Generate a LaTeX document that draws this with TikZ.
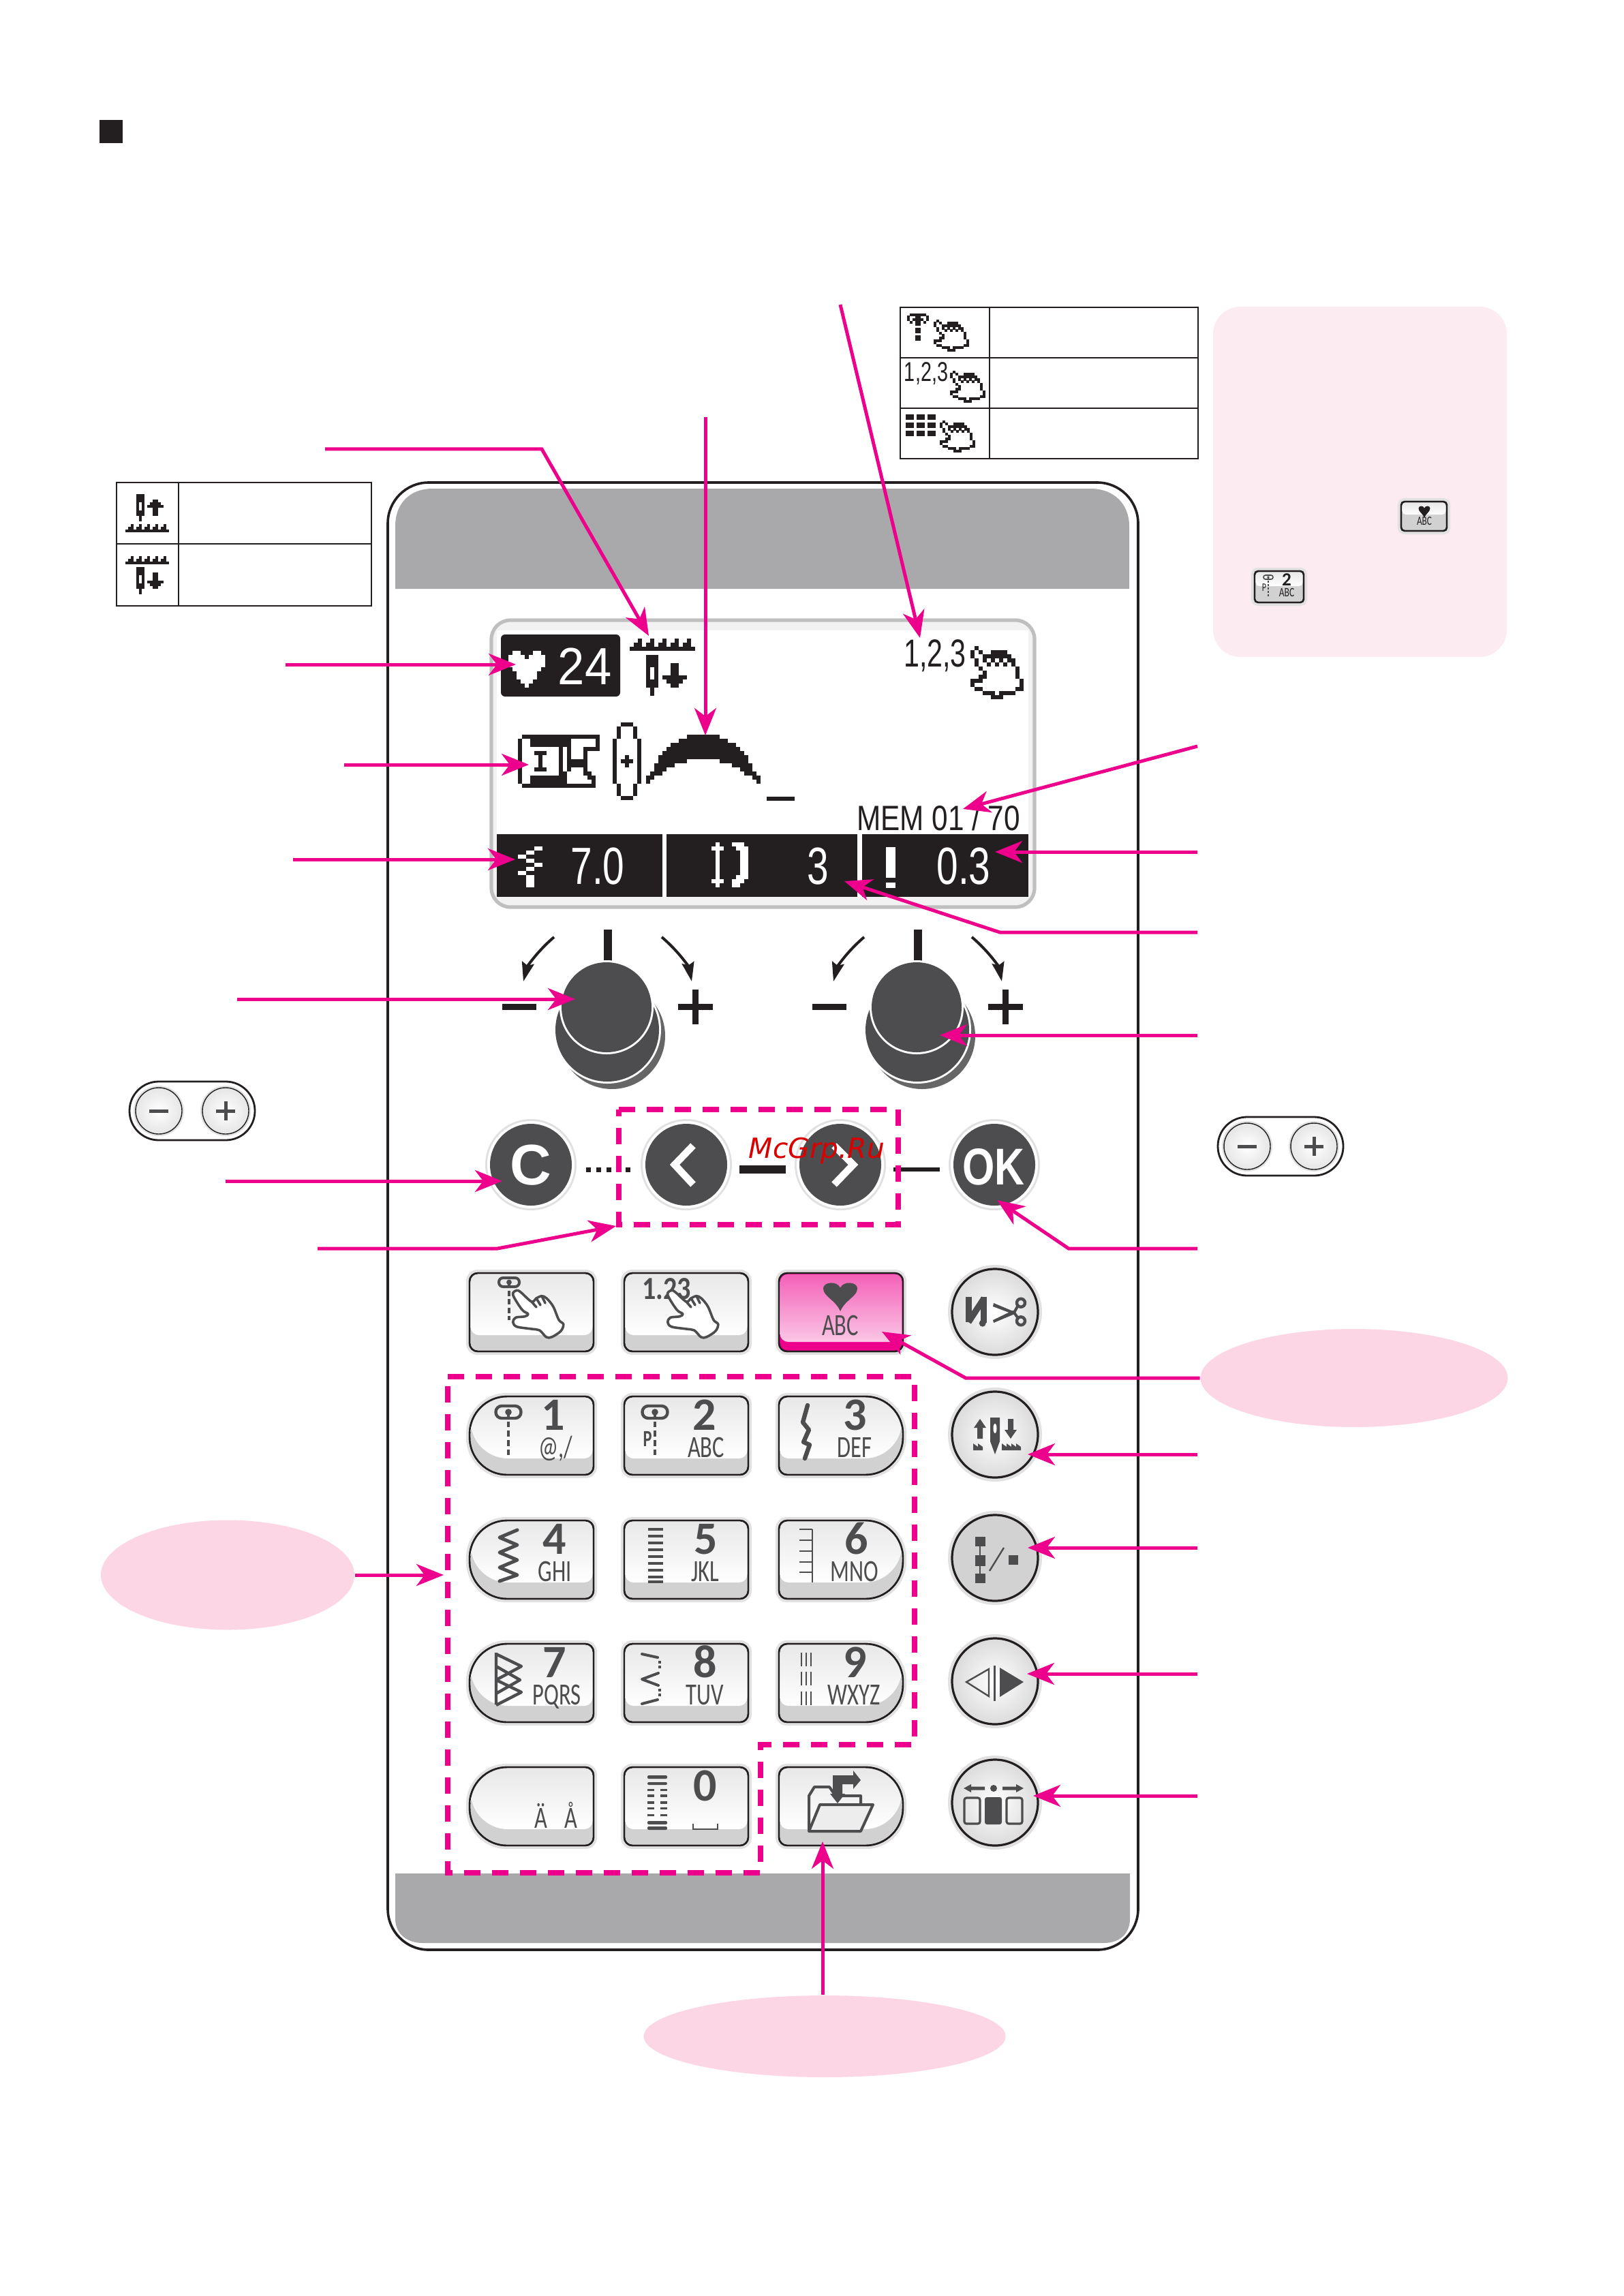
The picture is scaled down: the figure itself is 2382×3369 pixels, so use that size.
\documentclass[tikz,border=0pt]{standalone}
\usepackage{fontspec}
\setmainfont{Carlito}
\newfontfamily\lcdf{Liberation Sans}
\newfontfamily\wmf{DejaVu Sans}
\usetikzlibrary{arrows.meta,shapes.geometric}
\definecolor{mag}{HTML}{EC008C}
\definecolor{blk}{HTML}{231F20}
\definecolor{drk}{HTML}{4D4D4F}
\definecolor{pgray}{HTML}{A9A9AB}
\definecolor{halo}{HTML}{E1E1E1}
\definecolor{pinkA}{HTML}{FDD6E5}
\definecolor{pinkB}{HTML}{FDEBF2}
\tikzset{
 arr/.style={draw=mag,line width=1.25pt,-{Stealth[length=10pt,width=8pt,inset=3pt]}},
 dashbox/.style={draw=mag,line width=1.9pt,dash pattern=on 6pt off 4.25pt},
 cell/.style={draw=blk,line width=.7pt},
 pinkell/.style={ellipse,fill=pinkA,inner sep=0pt},
 dg/.style={text=drk,inner sep=0pt,anchor=base,font=\fontsize{17}{17}\selectfont\bfseries},
 lb/.style={text=drk,inner sep=0pt,anchor=base,xscale=.72,font=\fontsize{11.3}{11.3}\selectfont},
 lcd/.style={inner sep=0pt,anchor=base,font=\lcdf\fontsize{19.2}{19.2}\selectfont},
 ic/.style={draw=drk,line width=1.25pt,line cap=round,line join=round},
 knobline/.style={draw=blk,line width=1pt,-{Stealth[length=7pt,width=4.5pt,inset=1pt]}},
}
% pixel art
\newcount\pxc \newcount\pxr
\let\pxend\relax
\def\pxparse#1{\ifx#1\pxend\else\if#1X\fill[\pxcol] (\pxx+\the\pxc*\pxw-.15,\pxy+\the\pxr*\pxh-.15) rectangle ++(\pxw+.3,\pxh+.3);\fi\advance\pxc by 1\relax\expandafter\pxparse\fi}
\def\pxrowsparse#1,{\ifx\pxend#1\else\pxc=0 \pxparse#1\pxend\advance\pxr by 1\relax\expandafter\pxrowsparse\fi}
\def\pxart#1#2#3#4#5#6{\def\pxcol{#1}\def\pxx{#2}\def\pxy{#3}\def\pxw{#4}\def\pxh{#5}\pxr=0 \expandafter\pxrowsparse#6,\pxend,}
\def\bmhand{.X...........,X.X..XXXX....,X..XXXXXXX...,.X.X.X.X.XX..,.X..X.X.X.X..,..X........X.,...X.......X.,..XX.......X.,XXX.........X,X...........X,.XX........XX,...XXX.XXXX..,.....XXX.....}
\def\bmfeed{..X..X..X..X..X.,.XX.XX.XX.XX.XX.,XXXXXXXXXXXXXXXX}
\def\bmneedle{XXX,XXX,XXX,X.X,X.X,X.X,XXX,XXX,.X.,.X.}
\def\bmdown{..XX..,..XX..,..XX..,XXXXXX,.XXXX.,..XX..}
\def\bmup{..XX..,.XXXX.,XXXXXX,..XX..,..XX..,..XX..}
% key outline
\newcommand\kshape[7]{%
 \path[#1] (#2+#6,#3) -- (#4-#7,#3) .. controls (#4-.45*#7,#3) and (#4,#3+.45*#7) .. (#4,#3+#7)
 -- (#4,#5-#7) .. controls (#4,#5-.45*#7) and (#4-.45*#7,#5) .. (#4-#7,#5)
 -- (#2+#6,#5) .. controls (#2+.45*#6,#5) and (#2,#5-.45*#6) .. (#2,#5-#6)
 -- (#2,#3+#6) .. controls (#2,#3+.45*#6) and (#2+.45*#6,#3) .. (#2+#6,#3) -- cycle;}
\newcommand\skey[6]{% x0 y0 x1 y1 rl rr
 \kshape{draw=halo,line width=2.6pt}{#1}{#2}{#3}{#4}{#5}{#6}
 \kshape{fill=black!18,draw=blk,line width=.6pt}{#1}{#2}{#3}{#4}{#5}{#6}
 \kshape{shade,top color=black!9,bottom color=white}{#1+1.5}{#2+1.5}{#3-1.5}{#4-24}{#5}{#6}
 \kshape{draw=blk,line width=.6pt}{#1}{#2}{#3}{#4}{#5}{#6}}
\newcommand\rbtn[3]{% x y fill
 \fill[halo] (#1,#2) circle[radius=69];
 \ifx#3w\shade[inner color=white,outer color=black!14] (#1,#2) circle[radius=63];\else\fill[gray!35] (#1,#2) circle[radius=63];\fi
 \draw[blk,line width=.8pt] (#1,#2) circle[radius=63];}
\newcommand\dbtn[2]{%
 \fill[halo] (#1,#2) circle[radius=67];
 \fill[white] (#1,#2) circle[radius=64];
 \fill[drk] (#1,#2) circle[radius=60];}
\newcommand\footicon[6]{% x ytop ybot w h lw
 \draw[drk,line width=#6pt,rounded corners=#5*.12pt] (#1-#4/2,#2) rectangle (#1+#4/2,#2+#5);
 \fill[drk] (#1,#2+#5/2) circle[radius=#4*.13];
 \draw[drk,line width=#6pt,dash pattern=on #6*2pt off #6*1.1pt] (#1,#2+#5/2) -- (#1,#3);}
\newcommand\hpath[2]{%
 \begin{scope}[shift={(#1,#2)}]
 \draw[drk,line width=.9pt,fill=white,line join=round] plot[smooth cycle,tension=.55] coordinates {(72.7,45)(78,38.5)(84,41)(100,55)(107,50)(115,46.7)(122,50)(131.7,62)(140,81.7)(146.7,88)(143,98)(130,106.7)(121.7,107)(111.7,97)(100,95)(78.3,91.7)(72.7,85)(76.7,78.3)(90,76.7)(95,73)(86,66.7)};
 \draw[drk,line width=.9pt,line cap=round] (100,55)--(107,63) (107,50)--(113,60) (115,46.7)--(120,57);
 \end{scope}}
\newcommand\heartp[5]{% opts cx top w h
 \fill[#1] (#2,#3+#5) .. controls (#2-.15*#4,#3+.6*#5) and (#2-.5*#4,#3+.5*#5) .. (#2-.5*#4,#3+.22*#5)
 .. controls (#2-.5*#4,#3) and (#2-.1*#4,#3-.05*#5) .. (#2,#3+.2*#5)
 .. controls (#2+.1*#4,#3-.05*#5) and (#2+.5*#4,#3) .. (#2+.5*#4,#3+.22*#5)
 .. controls (#2+.5*#4,#3+.5*#5) and (#2+.15*#4,#3+.6*#5) .. (#2,#3+#5) -- cycle;}
\newcommand\knob[1]{%
 \begin{scope}[shift={(#1,0)}]
 \fill[blk] (886,1364) rectangle (898,1412);
 \fill[blk] (737,1473) rectangle (787,1482);
 \fill[blk] (995,1473) rectangle (1046,1482);
 \fill[blk] (1016,1452) rectangle (1025,1503);
 \draw[knobline] (813,1375) .. controls (786,1398) and (773,1420) .. (768,1440);
 \draw[knobline] (971,1375) .. controls (998,1398) and (1011,1420) .. (1015,1440);
 \fill[black!60] (898,1520) circle[radius=78];
 \fill[white] (891,1511) circle[radius=79];
 \fill[drk] (891,1511) circle[radius=76];
 \fill[white] (890,1478) circle[radius=69];
 \fill[drk] (890,1478) circle[radius=66];
 \end{scope}}
\newcommand\pill[2]{%
 \begin{scope}[shift={(#1,#2)}]
 \draw[blk,line width=.7pt,rounded corners=10.7pt] (190,1587) rectangle (374,1673);
 \foreach \cx in {233,331}{
  \fill[halo] (\cx,1630) circle[radius=37];
  \shade[inner color=white,outer color=black!10] (\cx,1630) circle[radius=34];
  \draw[blk,line width=.35pt] (\cx,1630) circle[radius=34];}
 \fill[drk] (219,1627.5) rectangle (247,1632.5);
 \fill[drk] (317,1627.5) rectangle (345,1632.5);
 \fill[drk] (328.5,1616) rectangle (333.5,1644);
 \end{scope}}
\begin{document}
\begin{tikzpicture}[x=.25pt,y=-.25pt]
\useasboundingbox (0,0) rectangle (2382,3369);
\fill[blk] (146,176) rectangle (180,210);
% pink areas
\fill[pinkB,rounded corners=10pt] (1780,450) rectangle (2211,964);
\node[pinkell,minimum width=112.75pt,minimum height=36pt] (ellR) at (1987,2022) {};
\node[pinkell,minimum width=93pt,minimum height=40.25pt] (ellL) at (334,2311) {};
\node[pinkell,minimum width=132.75pt,minimum height=30pt] (ellB) at (1210,2988) {};
% tables
\draw[cell] (1321,451) rectangle (1758,673);
\draw[cell] (1321,525) -- (1758,525) (1321,599) -- (1758,599) (1452,451) -- (1452,673);
\draw[cell] (171,708) rectangle (545,889);
\draw[cell] (171,798) -- (545,798) (262,708) -- (262,889);
\pxart{blk}{200}{725}{4}{4}{\bmneedle}
\pxart{blk}{216}{733}{4}{4}{\bmup}
\pxart{blk}{184}{769}{4}{4}{\bmfeed}
\pxart{blk}{184}{816}{4}{4}{\bmfeed}
\pxart{blk}{200}{832}{4}{4}{\bmneedle}
\pxart{blk}{216}{840}{4}{4}{\bmdown}
\pxart{blk}{1331}{460}{4}{3.6}{.XXXXXX.,X..XX..X,X.XXXX.X,.X.XX.X.,...XX...,........,...XX...,...XX...,........,...XX...,...XX...,........}
\pxart{blk}{1370}{469}{4}{3.6}{\bmhand}
\node[lcd,text=blk,xscale=.72,font=\lcdf\fontsize{10}{10}\selectfont] (t123s) at (1359,560) {1,2,3};
\pxart{blk}{1394}{544}{4}{3.6}{\bmhand}
\foreach \gx in {1329,1345,1361}{\foreach \gy in {608,620,632}{\fill[blk] (\gx,\gy) rectangle ++(12,8);}}
\pxart{blk}{1379}{617}{4}{3.6}{\bmhand}
% small keys in note
\skey{2056}{736}{2123}{779}{5}{5}
\heartp{blk}{2090}{742}{17}{18}
\node[lb,text=blk,font=\fontsize{4.6}{4.6}\selectfont] (sabc) at (2090,771) {ABC};
\skey{1841}{838}{1913}{884}{5}{5}
\footicon{1861}{844}{875}{14}{6}{.4}
\node[lb,text=blk,font=\fontsize{4.2}{4.2}\selectfont] (sp) at (1855,867) {P};
\node[dg,text=blk,font=\fontsize{6.8}{6.8}\selectfont\bfseries] (s2) at (1888,859) {2};
\node[lb,text=blk,font=\fontsize{4.7}{4.7}\selectfont] (sabc2) at (1888,875) {ABC};
% panel
\draw[blk,line width=.9pt,rounded corners=15pt,fill=white] (569,708) rectangle (1670,2861);
\fill[pgray] (580,864) -- (580,772) .. controls (580,740) and (600,717) .. (635,717) -- (1600,717) .. controls (1635,717) and (1657,740) .. (1657,772) -- (1657,864) -- cycle;
\fill[pgray] (580,2749) -- (580,2815) .. controls (580,2840) and (600,2851) .. (620,2851) -- (1620,2851) .. controls (1640,2851) and (1658,2840) .. (1658,2815) -- (1658,2749) -- cycle;
% LCD
\draw[draw=black!25,line width=1.3pt,fill=black!5,rounded corners=7pt] (721,910) rectangle (1518,1331);
\fill[white] (729,925) rectangle (1509,1316);
\fill[blk] (729,1224) rectangle (972,1316);
\fill[blk] (978,1224) rectangle (1258,1316);
\fill[blk] (1265,1224) rectangle (1509,1316);
\fill[blk,rounded corners=1.5pt] (735,931) rectangle (910,1022);
\pxart{white}{746}{955}{6}{6}{.XX...XX.,XXXX.XXXX,XXXXXXXXX,XXXXXXXXX,.XXXXXXX.,..XXXXX..,..XXXXX..,...XXX...,....X....}
\node[lcd,text=white,xscale=.92] (t24) at (858,1004) {24};
\pxart{blk}{924}{937}{6}{6}{\bmfeed}
\pxart{blk}{948}{961}{6}{6}{\bmneedle}
\pxart{blk}{972}{973}{6}{6}{\bmdown}
\node[lcd,text=blk,xscale=.72,font=\lcdf\fontsize{14.3}{14.3}\selectfont] (t123) at (1372,978) {1,2,3};
\pxart{blk}{1424}{948}{6}{6}{\bmhand}
\pxart{blk}{760}{1078}{6}{6}{.XXXXXXXXXXXXXXXXXXX,X..XXXXXXXXXX......X,X..XXXXXXXXXX......X,X.........X.X...XXXX,X...XXX...X.X...X...,X....X....X.X...X...,X....X....X.XXXXX...,X....X....X.XXXXX...,X...XXX...X.X...X...,X.........XX....XX..,X..XXXXXXXXX.....XX.,X..XXXXXXXXX......X.,.XXXXXXXXXXXXXXXXXX.}
\pxart{blk}{899}{1060}{6}{6}{..XXX..,.X...X.,.X...X.,.X...X.,X.....X,X.....X,X.....X,X.....X,X..X..X,X.XXX.X,X..X..X,X.....X,X.....X,X.....X,X.....X,.X...X.,.X...X.,.X...X.,..XXX..}
\pxart{blk}{948}{1078}{6}{6}{..........XXXXXXXX..........,........XXXXXXXXXXXX........,......XXXXXXXXXXXXXXXX......,.....XXXXXXXXXXXXXXXXXX.....,....XXXXXXXXXXXXXXXXXXXX....,...XXXXXXXXXXXXXXXXXXXXXX...,...XXXXXXX........XXXXXXX...,..XXXXX..............XXXXX..,..XXX..................XXX..,.XXX....................XXX.,XX........................XX,X..........................X}
\fill[blk] (1125,1169) rectangle (1166,1175);
\node[lcd,text=blk,xscale=.82,font=\lcdf\fontsize{12.9}{12.9}\selectfont] (tmem) at (1377,1218) {MEM 01 / 70};
\pxart{white}{760}{1242}{6}{6}{....XX,..XX..,XX....,..XX..,....XX,..XX..,XX....,..XX..,..XX..,..XX..}
\node[lcd,text=white,xscale=.74] (t70) at (877,1297) {7.0};
\pxart{white}{1044}{1236}{6}{6}{.X...XXX.,XXX...XXX,.X.....XX,.X.....XX,.X.....XX,.X.....XX,.X.....XX,.X.....XX,.X....XXX,XXX..XXX.,.X...XX..}
\node[lcd,text=white,xscale=.74] (t3) at (1200,1297) {3};
\fill[white] (1300,1243) rectangle (1314,1288);
\fill[white] (1300,1295) rectangle (1314,1303);
\node[lcd,text=white,xscale=.74] (t03) at (1414,1297) {0.3};
% knobs
\knob{0}
\knob{455}
% pills
\pill{0}{0}
\pill{1597}{52}
% round dark buttons
\dbtn{779}{1709}
\dbtn{1007}{1709}
\dbtn{1233}{1709}
\dbtn{1459}{1709}
\node[text=white,inner sep=0pt,anchor=base,font=\lcdf\bfseries\fontsize{21}{21}\selectfont] (tC) at (779,1738) {C};
\node[text=white,inner sep=0pt,anchor=base,xscale=.8,font=\lcdf\bfseries\fontsize{19}{19}\selectfont] (tOK) at (1458,1738) {OK};
\draw[white,line width=2.6pt] (1017,1681) -- (990,1709) -- (1017,1738);
\draw[white,line width=2.6pt] (1224,1681) -- (1252,1709) -- (1224,1738);
\foreach \dx in {860,875,890,904,918}{\fill[blk] (\dx,1713) rectangle ++(7,7);}
\fill[blk] (1085,1710) rectangle (1153,1722);
\fill[blk] (1311,1713) rectangle (1379,1719);
% top row keys
\skey{689}{1868}{871}{1983}{12}{12}
\skey{916}{1868}{1098}{1983}{12}{12}
\footicon{747}{1875}{1937}{30}{13}{1}
\hpath{680}{1855}
\node[dg,font=\fontsize{11.8}{11.8}\selectfont\bfseries,xscale=.85] (t123k) at (978,1906) {1.23};
\hpath{907}{1855}
% heart key
\kshape{draw=halo,line width=2.6pt}{1143}{1868}{1325}{1983}{12}{12}
\kshape{fill=mag,draw=blk,line width=.6pt}{1143}{1868}{1325}{1983}{12}{12}
\kshape{shade,top color=mag!62,bottom color=mag!22}{1144.5}{1869.5}{1323.5}{1969}{12}{10}
\kshape{draw=blk,line width=.6pt}{1143}{1868}{1325}{1983}{12}{12}
\heartp{drk}{1233}{1881}{50}{43}
\node[lb] (tabc0) at (1233,1959) {ABC};
% number keys
\skey{689}{2049}{871}{2164}{55}{12}
\skey{916}{2049}{1098}{2164}{12}{12}
\skey{1143}{2049}{1325}{2164}{12}{55}
\skey{689}{2231}{871}{2346}{55}{12}
\skey{916}{2231}{1098}{2346}{12}{12}
\skey{1143}{2231}{1325}{2346}{12}{55}
\skey{689}{2412}{871}{2527}{55}{12}
\skey{916}{2412}{1098}{2527}{12}{12}
\skey{1143}{2412}{1325}{2527}{12}{55}
\skey{689}{2593}{871}{2708}{55}{12}
\skey{916}{2593}{1098}{2708}{12}{12}
\skey{1143}{2593}{1325}{2708}{12}{55}
% labels
\node[dg] (d1) at (812,2098) {1};
\node[lb] (l1) at (815,2138) {@,/};
\node[dg] (d2) at (1034,2098) {2};
\node[lb] (l2) at (1036,2138) {ABC};
\node[dg] (d3) at (1255,2098) {3};
\node[lb] (l3) at (1254,2138) {DEF};
\node[dg] (d4) at (814,2280) {4};
\node[lb] (l4) at (814,2320) {GHI};
\node[dg] (d5) at (1036,2280) {5};
\node[lb] (l5) at (1035,2320) {JKL};
\node[dg] (d6) at (1257,2280) {6};
\node[lb] (l6) at (1254,2320) {MNO};
\node[dg] (d7) at (814,2461) {7};
\node[lb] (l7) at (817,2501) {PQRS};
\node[dg] (d8) at (1035,2461) {8};
\node[lb] (l8) at (1034,2501) {TUV};
\node[dg] (d9) at (1255,2461) {9};
\node[lb] (l9) at (1253,2501) {WXYZ};
\node[dg] (d0) at (1035,2642) {0};
\node[lb] (lae) at (794,2682) {Ä};
\node[lb] (lar) at (838,2682) {Å};
\draw[drk,line width=.5pt] (1017,2676) -- (1017,2684) -- (1053,2684) -- (1053,2676);
% icons in keys
\footicon{746}{2063}{2140}{37}{18}{1.1}
\footicon{961}{2063}{2140}{37}{18}{1.1}
\node[lb,font=\fontsize{8.5}{8.5}\selectfont\bfseries] (lp) at (950,2122) {P};
\draw[ic,line width=1.6pt] (1185,2062) -- (1178,2087) -- (1187,2098) -- (1179,2116) -- (1188,2120) -- (1181,2140);
\draw[ic] (759,2245) -- (733,2256) -- (759,2267) -- (733,2278) -- (759,2289) -- (733,2300) -- (759,2311) -- (733,2320);
\foreach \yy in {2244,2254,2264,2274,2284,2294,2304,2314,2321}{\draw[drk,line width=.9pt] (951,\yy) -- (973,\yy);}
\draw[drk,line width=.6pt] (1192,2244) -- (1192,2322);
\foreach \yy in {2244,2260,2276,2292,2307}{\draw[drk,line width=.6pt] (1173,\yy) -- (1192,\yy);}
\draw[drk,line width=1.1pt,line join=round] (728,2425) -- (728,2501) (728,2427) -- (765,2445) -- (728,2465) -- (765,2483) -- (728,2502) (728,2445) -- (763,2465) -- (728,2485);
\draw[ic,line width=1pt] (942,2427) -- (965,2432);
\draw[drk,line width=1pt,dash pattern=on 1pt off .8pt] (968,2437) -- (968,2450);
\draw[ic,line width=1pt] (966,2455) -- (942,2464) -- (966,2473);
\draw[drk,line width=1pt,dash pattern=on 1pt off .8pt] (968,2478) -- (968,2490);
\draw[ic,line width=1pt] (942,2500) -- (965,2494);
\foreach \xx in {1176,1183,1190}{\foreach \yy in {2425,2453,2482}{\draw[drk,line width=.6pt] (\xx,\yy) -- (\xx,\yy+20);}}
% key 0 icon
\foreach \ya/\yb in {2605/2610,2615/2619,2672/2677,2680/2685}{\fill[drk,rounded corners=.5pt] (950,\ya) rectangle (979,\yb);}
\foreach \ya/\yb in {2625/2628,2633/2637,2643/2647,2652/2655,2662/2665}{\fill[drk] (950,\ya) rectangle (960,\yb); \fill[drk] (969,\ya) rectangle (979,\yb);}
% folder
\draw[drk,line width=1pt,line join=round] (1187,2687) -- (1187,2635) -- (1195,2622) -- (1217,2622) -- (1226,2635) -- (1263,2635) -- (1263,2648);
\draw[drk,line width=1pt,line join=round,fill=white!93!black] (1203,2648) -- (1281,2648) -- (1263,2687) -- (1187,2687) -- cycle;
\fill[drk] (1222,2605) -- (1252,2605) -- (1252,2598) -- (1263,2612) -- (1252,2625) -- (1252,2618) -- (1236,2618) -- (1236,2632) -- (1240,2632) -- (1229,2646) -- (1218,2632) -- (1222,2632) -- cycle;
% round buttons
\rbtn{1460}{1925}{w}
\rbtn{1460}{2105}{w}
\rbtn{1460}{2286}{g}
\rbtn{1460}{2467}{w}
\rbtn{1460}{2645}{w}
% scissors button
\fill[drk] (1416.7,1903.3) rectangle (1426,1940);
\fill[drk] (1439.3,1903.3) rectangle (1448.3,1941);
\draw[drk,line width=2.3pt] (1421,1940) -- (1444,1905);
\fill[drk] (1441.7,1941.7) circle[radius=5];
\fill[drk] (1458,1912) -- (1489,1925) -- (1491,1929) -- (1486,1928) -- (1457,1917) -- cycle;
\fill[drk] (1457,1937) -- (1486,1923) -- (1491,1924) -- (1489,1928) -- (1458,1941) -- cycle;
\draw[drk,line width=1.1pt] (1498,1911.7) circle[radius=6];
\draw[drk,line width=1.1pt] (1498,1938.3) circle[radius=6];
\draw[drk,line width=1pt] (1488,1926) -- (1493,1917) (1488,1926) -- (1493,1933);
% needle button
\fill[drk] (1438,2082) -- (1447,2095) -- (1442,2095) -- (1442,2111) -- (1434,2111) -- (1434,2095) -- (1429,2095) -- cycle;
\fill[drk] (1483,2111) -- (1474,2098) -- (1479,2098) -- (1479,2082) -- (1487,2082) -- (1487,2098) -- (1492,2098) -- cycle;
\fill[drk] (1453,2080) -- (1467,2080) -- (1467,2115) -- (1460,2134) -- (1453,2115) -- cycle;
\fill[white] (1460,2096) ellipse[x radius=2.5,y radius=7];
\foreach \fx/\ft in {1428/2,1470/4}{\foreach \ii in {1,...,\ft}{\fill[drk] (\fx+\ii*7-7,2128) -- (\fx+\ii*7-7,2118) -- (\fx+\ii*7,2123) -- (\fx+\ii*7,2128) -- cycle;}}
% stitch button
\draw[drk,line width=.7pt] (1438,2260) -- (1438,2316);
\fill[drk] (1431,2255) rectangle (1446,2269);
\fill[drk] (1431,2282) rectangle (1446,2298);
\fill[drk] (1431,2309) rectangle (1446,2323);
\draw[drk,line width=.6pt] (1452,2305) -- (1473,2271);
\fill[drk] (1480,2282) rectangle (1494,2296);
% mirror button
\draw[drk,line width=.6pt,line join=miter] (1418,2468) -- (1451,2449) -- (1451,2489) -- cycle;
\fill[drk] (1457.5,2444) rectangle (1461,2496);
\fill[drk] (1467,2447) -- (1502,2468) -- (1467,2490) -- cycle;
% align button
\fill[drk] (1414,2624) -- (1425,2618) -- (1425,2621.5) -- (1445,2621.5) -- (1445,2626.5) -- (1425,2626.5) -- (1425,2630) -- cycle;
\fill[drk] (1502,2624) -- (1491,2618) -- (1491,2621.5) -- (1471,2621.5) -- (1471,2626.5) -- (1491,2626.5) -- (1491,2630) -- cycle;
\fill[drk] (1458,2624) circle[radius=5];
\draw[drk,line width=.8pt,rounded corners=.8pt] (1415,2638) rectangle (1438,2676);
\fill[drk,rounded corners=.8pt] (1445,2637) rectangle (1470,2677);
\draw[drk,line width=.8pt,rounded corners=.8pt] (1477,2638) rectangle (1500,2676);
% dashed boxes
\coordinate (dbA) at (908,1628);
\coordinate (dbB) at (1318,1628);
\coordinate (dbC) at (1318,1797);
\coordinate (dbD) at (908,1797);
\draw[dashbox] (dbA) -- (dbB) -- (dbC) -- (dbD) -- cycle;
\draw[dashbox] (657,2020) -- (1342,2020) -- (1342,2560) -- (1116,2560) -- (1116,2748) -- (657,2748) -- cycle;
% arrow ends
\coordinate (a1s) at (477,659); \coordinate (a1b) at (795,659); \coordinate (a1t) at (952,933);
\coordinate (a2s) at (1035,612); \coordinate (a2t) at (1035,1079);
\coordinate (a3s) at (1233,447); \coordinate (a3t) at (1350,936);
\coordinate (a4s) at (419,975); \coordinate (a4t) at (757,975);
\coordinate (a5s) at (505,1122); \coordinate (a5t) at (776,1122);
\coordinate (a6s) at (430,1261); \coordinate (a6t) at (756,1261);
\coordinate (a7s) at (348,1466); \coordinate (a7t) at (844,1466);
\coordinate (a8s) at (331,1733); \coordinate (a8t) at (737,1733);
\coordinate (a9s) at (466,1832); \coordinate (a9b) at (730,1832); \coordinate (a9t) at (904,1799);
\coordinate (a10s) at (1757,1095); \coordinate (a10t) at (1413,1187);
\coordinate (a11s) at (1757,1250); \coordinate (a11t) at (1460,1250);
\coordinate (a12s) at (1757,1368); \coordinate (a12b) at (1467,1368); \coordinate (a12t) at (1239,1293);
\coordinate (a13s) at (1757,1519); \coordinate (a13t) at (1379,1519);
\coordinate (a14s) at (1757,1832); \coordinate (a14b) at (1568,1832); \coordinate (a14t) at (1463,1761);
\coordinate (a15b) at (1417,2022); \coordinate (a15t) at (1294,1954);
\coordinate (a16s) at (1757,2134); \coordinate (a16t) at (1508,2134);
\coordinate (a17s) at (1757,2271); \coordinate (a17t) at (1508,2271);
\coordinate (a18s) at (1757,2456); \coordinate (a18t) at (1507,2456);
\coordinate (a19s) at (1757,2635); \coordinate (a19t) at (1516,2635);
\coordinate (a20t) at (651,2311);
\coordinate (a21t) at (1207,2702);
% arrows
\draw[arr] (a1s) -- (a1b) -- (a1t);
\draw[arr] (a2s) -- (a2t);
\draw[arr] (a3s) -- (a3t);
\draw[arr] (a4s) -- (a4t);
\draw[arr] (a5s) -- (a5t);
\draw[arr] (a6s) -- (a6t);
\draw[arr] (a7s) -- (a7t);
\draw[arr] (a8s) -- (a8t);
\draw[arr] (a9s) -- (a9b) -- (a9t);
\draw[arr] (a10s) -- (a10t);
\draw[arr] (a11s) -- (a11t);
\draw[arr] (a12s) -- (a12b) -- (a12t);
\draw[arr] (a13s) -- (a13t);
\draw[arr] (a14s) -- (a14b) -- (a14t);
\draw[arr] (ellR.west) -- (a15b) -- (a15t);
\draw[arr] (a16s) -- (a16t);
\draw[arr] (a17s) -- (a17t);
\draw[arr] (a18s) -- (a18t);
\draw[arr] (a19s) -- (a19t);
\draw[arr] (ellL.east) -- (a20t);
\draw[arr] (ellB.north -| a21t) -- (a21t);
% watermark
\node[text=red!85!black,inner sep=0pt,anchor=base west,font=\wmf\itshape\fontsize{10.2}{10.2}\selectfont] (wm) at (1098,1699) {McGrp.Ru};
\end{tikzpicture}
\end{document}
